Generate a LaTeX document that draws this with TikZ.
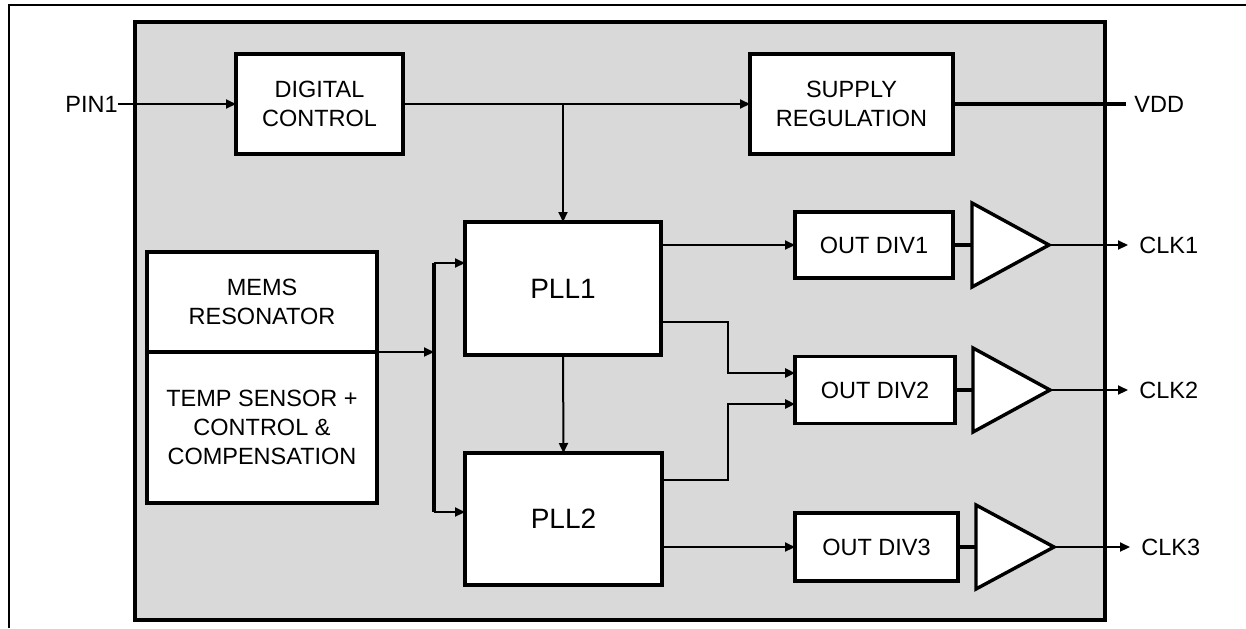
\documentclass[tikz,border=0pt]{standalone}
\usepackage{fontspec}
\setmainfont{Liberation Sans}
\usetikzlibrary{arrows.meta}
\definecolor{chipgray}{RGB}{217,217,217}
\tikzset{
  blk/.style={draw=black, fill=white, line width=1.7pt, inner sep=0pt, outer sep=0pt, align=center,
    font=\fontsize{11.75}{14.5}\selectfont},
  bigblk/.style={blk, font=\fontsize{14}{17}\selectfont},
  wire/.style={line width=1pt},
  arr/.style={line width=1pt, -{Triangle[length=5pt,width=4.5pt]}},
  fat/.style={line width=1.6pt},
  pinlbl/.style={inner sep=0pt, font=\fontsize{11.75}{14.5}\selectfont},
}
\begin{document}
\begin{tikzpicture}[x=0.5pt,y=-0.5pt]
\useasboundingbox (0,0) rectangle (1246,628);
% outer frame
\draw[line width=1.1pt] (9,628) -- (9,5) -- (1246,5);
% chip body
\draw[line width=1.6pt, fill=chipgray] (135,22) rectangle (1105,620);

% blocks
\node[blk, minimum width=83.5pt, minimum height=50pt] (dc) at (319.5,104) {DIGITAL\\CONTROL};
\node[blk, minimum width=101.5pt, minimum height=50pt] (sr) at (851.5,104) {SUPPLY\\REGULATION};
\node[bigblk, minimum width=98pt, minimum height=66.5pt] (pll1) at (563,288.5) {PLL1};
\node[bigblk, minimum width=98.5pt, minimum height=66pt] (pll2) at (563.5,519) {PLL2};
\node[blk, minimum width=115pt, minimum height=50pt] (mems) at (262,302) {MEMS\\RESONATOR};
\node[blk, minimum width=115pt, minimum height=75.5pt] (temp) at (262,427.5) {TEMP SENSOR +\\CONTROL \&\\COMPENSATION};
\node[blk, minimum width=79pt, minimum height=33pt] (od1) at (874,245) {OUT DIV1};
\node[blk, minimum width=80pt, minimum height=33.5pt] (od2) at (875,390) {OUT DIV2};
\node[blk, minimum width=81.5pt, minimum height=34pt] (od3) at (876.5,547) {OUT DIV3};

% buffers
\coordinate (t1in) at (972,245); \coordinate (t1out) at (1049,245);
\coordinate (t2in) at (973,390); \coordinate (t2out) at (1050,390);
\coordinate (t3in) at (976,547); \coordinate (t3out) at (1054,547);
\draw[line width=1.7pt, fill=white, line join=miter] (972,203) -- (t1out) -- (972,287) -- cycle;
\draw[line width=1.7pt, fill=white, line join=miter] (973,348) -- (t2out) -- (973,432) -- cycle;
\draw[line width=1.7pt, fill=white, line join=miter] (976,505) -- (t3out) -- (976,589) -- cycle;

% labels
\node[pinlbl, anchor=east] (pin1) at (118,104) {PIN1};
\node[pinlbl, anchor=west] (vdd) at (1134,104) {VDD};
\node[pinlbl, anchor=west] (clk1) at (1139,245) {CLK1};
\node[pinlbl, anchor=west] (clk2) at (1139,390) {CLK2};
\node[pinlbl, anchor=west] (clk3) at (1141,547) {CLK3};

\coordinate (vddend) at (1126,104);
\coordinate (j1) at (563,104);
\coordinate (bustop) at (434,263);
\coordinate (busbot) at (434,512);
\coordinate (c1) at (1128,245);
\coordinate (c2) at (1128,390);
\coordinate (c3) at (1130,547);

% connectors
\draw[arr] (pin1.east) -- (dc.west);
\draw[arr] (dc.east) -- (sr.west);
\draw[arr] (j1) -- (pll1.north);
\draw[fat] (sr.east) -- (vddend);
\draw[arr] (mems.south east) -- (mems.south east -| bustop);
\draw[fat] (bustop) -- (busbot);
\draw[arr] (bustop) -- (bustop -| pll1.west);
\draw[arr] (busbot) -- (busbot -| pll2.west);
\draw[arr] (pll1.south) -- (pll2.north);
\draw[arr] (od1.west -| pll1.east) -- (od1.west);
\draw[arr, line width=1.4pt] (pll1.east |- 0,322) -| (728,373) -- (od2.west |- 0,373);
\draw[arr, line width=1.4pt] (pll2.east |- 0,480) -| (728,404) -- (od2.west |- 0,404);
\draw[arr] (od3.west -| pll2.east) -- (od3.west);
\draw[fat] (od1.east) -- (t1in);
\draw[fat] (od2.east) -- (t2in);
\draw[fat] (od3.east) -- (t3in);
\draw[arr] (t1out) -- (c1);
\draw[arr] (t2out) -- (c2);
\draw[arr] (t3out) -- (c3);
\end{tikzpicture}
\end{document}
